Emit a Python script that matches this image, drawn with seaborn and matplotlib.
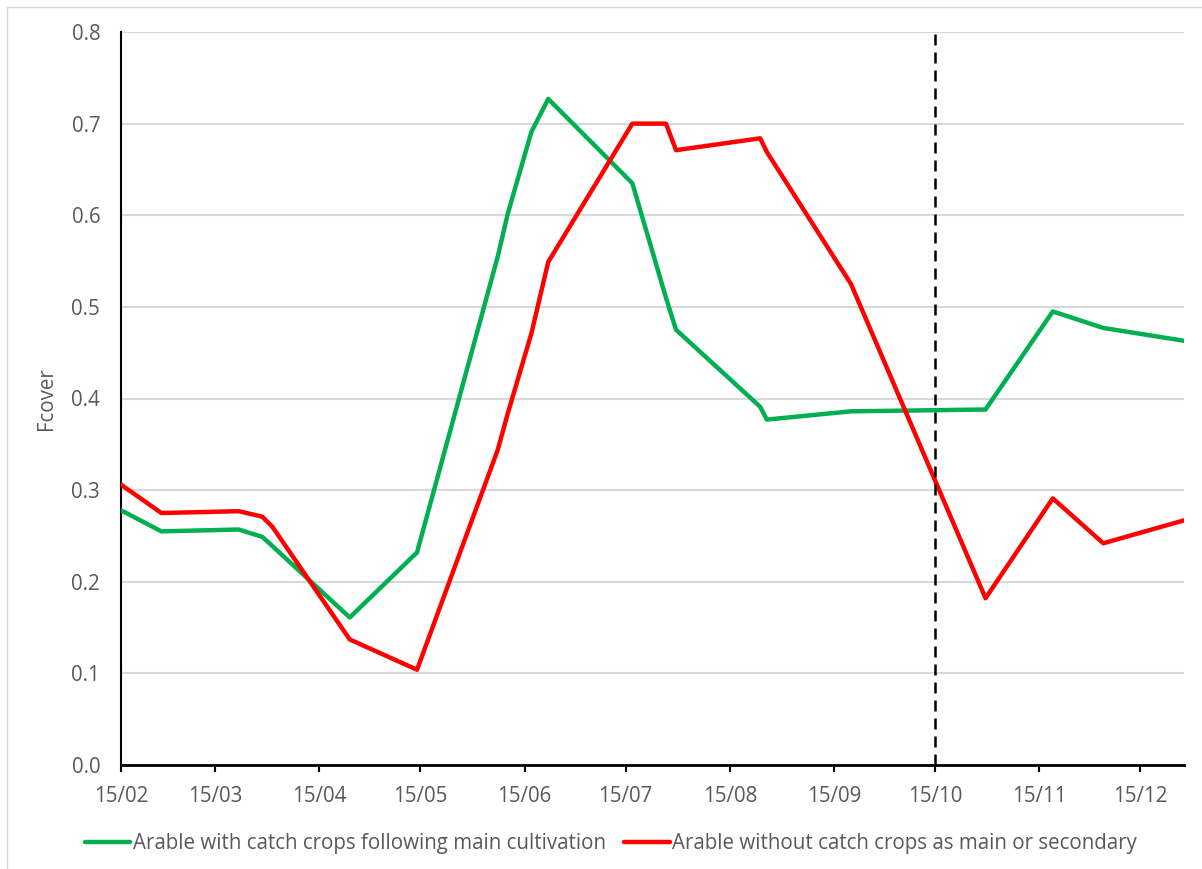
import matplotlib
matplotlib.use("Agg")
import matplotlib.pyplot as plt
from matplotlib.lines import Line2D
import pandas as pd
import seaborn as sns

# ---------------- data ----------------
dates = ["2019-02-15", "2019-02-27", "2019-03-22", "2019-03-29", "2019-04-01",
         "2019-04-24", "2019-05-14", "2019-06-07", "2019-06-10", "2019-06-17",
         "2019-06-22", "2019-07-17", "2019-07-27", "2019-07-30", "2019-08-24",
         "2019-08-26", "2019-09-20", "2019-10-30", "2019-11-19", "2019-12-04",
         "2019-12-28"]
with_catch = [0.278, 0.255, 0.257, 0.249, 0.239, 0.161, 0.232, 0.555, 0.602, 0.691,
              0.727, 0.635, 0.510, 0.475, 0.391, 0.377, 0.386, 0.388, 0.495, 0.477,
              0.463]
without_catch = [0.306, 0.275, 0.277, 0.271, 0.260, 0.137, 0.104, 0.344, 0.384, 0.471,
                 0.549, 0.700, 0.700, 0.671, 0.684, 0.669, 0.525, 0.182, 0.291, 0.242,
                 0.267]
series_names = ["Arable with catch crops following main cultivation",
                "Arable without catch crops as main or secondary"]
tick_dates = ["2019-02-15", "2019-03-15", "2019-04-15", "2019-05-15", "2019-06-15",
              "2019-07-15", "2019-08-15", "2019-09-15", "2019-10-15", "2019-11-15",
              "2019-12-15"]
tick_labels = ["15/02", "15/03", "15/04", "15/05", "15/06", "15/07", "15/08",
               "15/09", "15/10", "15/11", "15/12"]
y_ticks = [0.0, 0.1, 0.2, 0.3, 0.4, 0.5, 0.6, 0.7, 0.8]
marker_date = "2019-10-15"
y_label = "Fcover"

colors = {series_names[0]: "#00B050", series_names[1]: "#FF0000"}

df = pd.concat([
    pd.DataFrame({"date": pd.to_datetime(dates), "value": with_catch, "series": series_names[0]}),
    pd.DataFrame({"date": pd.to_datetime(dates), "value": without_catch, "series": series_names[1]}),
], ignore_index=True)

# ---------------- style ----------------
sns.set_theme(style="white")
plt.rcParams['font.family'] = ['Open Sans', 'DejaVu Sans']
FS = 14.8
TXT = "#595959"

W, H = 1202, 869
fig = plt.figure(figsize=(W / 100, H / 100), dpi=100)
fig.patch.set_facecolor("white")

left, right, top, bottom = 121, 1184, 32, 765
ax = fig.add_axes([left / W, 1 - bottom / H, (right - left) / W, (bottom - top) / H])

sns.lineplot(data=df, x="date", y="value", hue="series", hue_order=series_names,
             palette=colors, linewidth=3.2, ax=ax, legend=False, zorder=3)

ax.axvline(pd.Timestamp(marker_date), color="black", lw=1.8,
           ls=(0, (4.4, 2.8)), zorder=4)

ax.set_xlim(pd.Timestamp(dates[0]), pd.Timestamp(dates[-1]))
ax.set_ylim(0, 0.8)
ax.set_yticks(y_ticks)
ax.set_yticklabels([f"{v:.1f}" for v in y_ticks])
ax.set_xticks(pd.to_datetime(tick_dates))
ax.set_xticklabels(tick_labels)

ax.grid(axis="y", color="#d9d9d9", lw=1.5, zorder=0)
ax.grid(axis="x", visible=False)
for s in ["top", "right"]:
    ax.spines[s].set_visible(False)
ax.spines["left"].set_color("black")
ax.spines["left"].set_linewidth(1.5)
ax.spines["bottom"].set_color("black")
ax.spines["bottom"].set_linewidth(2.0)
ax.spines["bottom"].set_zorder(5)

ax.tick_params(axis="y", length=0, pad=15, labelsize=FS, labelcolor=TXT)
ax.tick_params(axis="x", length=5, width=1.5, color="black", direction="out",
               pad=10, labelsize=FS, labelcolor=TXT, bottom=True)

ax.set_xlabel("")
ax.set_ylabel(y_label, fontsize=FS, color=TXT)
ax.yaxis.set_label_coords((57 - left) / (right - left), (bottom - 399) / (bottom - top))

handles = [Line2D([0], [0], color=colors[n], lw=3.2) for n in series_names]
fig.legend(handles, series_names, loc="center", bbox_to_anchor=(611 / W, 1 - 844 / H),
           ncol=2, frameon=False, fontsize=FS, labelcolor=TXT,
           handlelength=2.2, handletextpad=0.12, columnspacing=0.9)

# chart-area border (only top and left visible in the reference)
fig.add_artist(Line2D([7 / W, 7 / W], [0, 1 - 7 / H], transform=fig.transFigure,
                      color="#d9d9d9", lw=1))
fig.add_artist(Line2D([7 / W, 1], [1 - 7 / H, 1 - 7 / H], transform=fig.transFigure,
                      color="#d9d9d9", lw=1))

fig.savefig("out.png", dpi=100, facecolor="white")
